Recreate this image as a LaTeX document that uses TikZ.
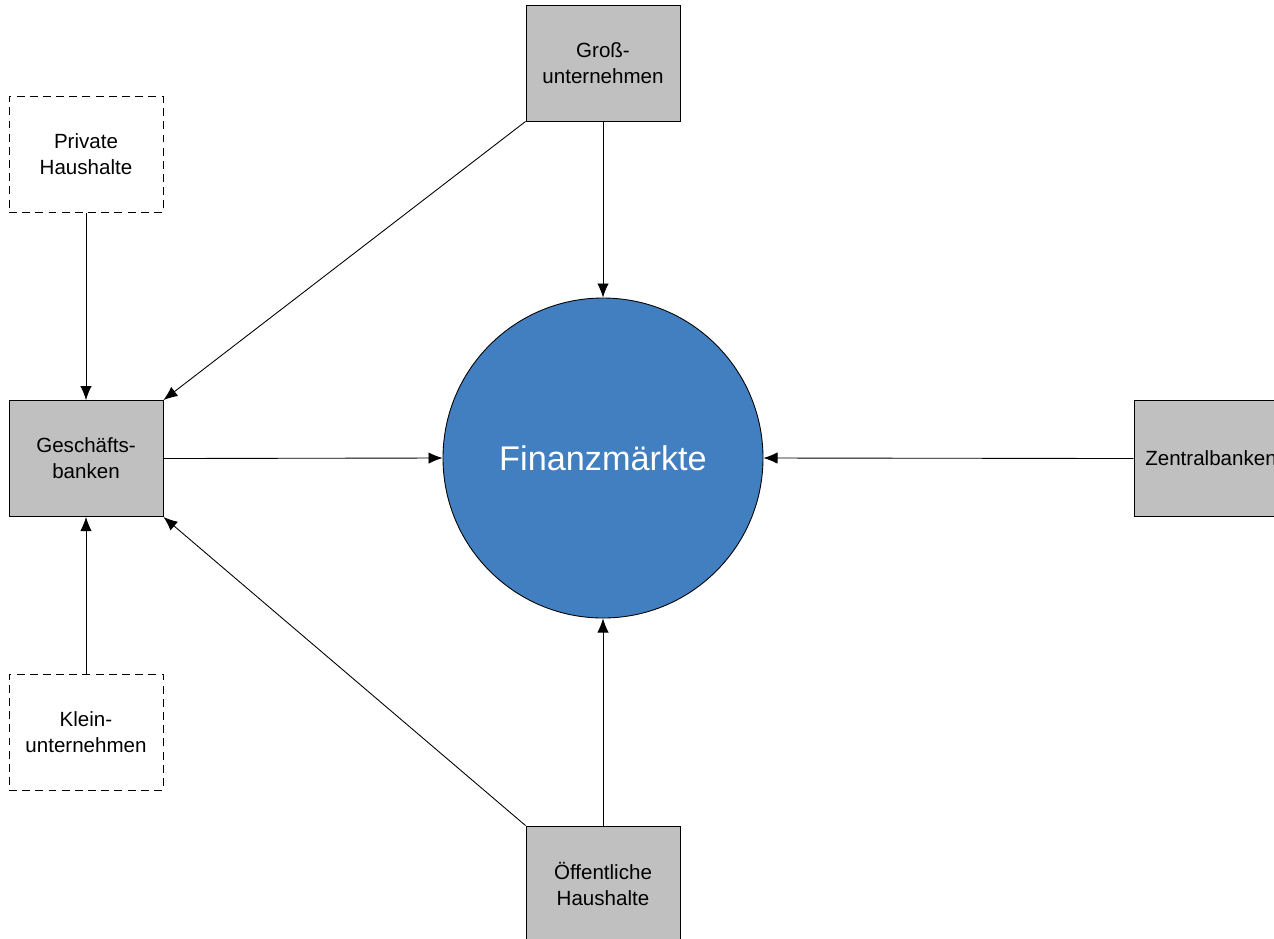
\documentclass[tikz,border=0pt]{standalone}
\usepackage{fontspec}
\setmainfont{Liberation Sans}
\usetikzlibrary{arrows.meta}

\definecolor{boxgrey}{RGB}{192,192,192}
\definecolor{marktblue}{RGB}{65,127,193}

\tikzset{
    akteur/.style={draw, fill=boxgrey, minimum width=154*0.02cm, minimum height=116*0.02cm,
        inner sep=0pt, align=center, font=\fontsize{11.7}{14.7}\selectfont},
    privat/.style={akteur, fill=white, dash pattern=on 4.5pt off 3pt},
    fluss/.style={-{Latex[length=8pt,width=6.5pt]}, line width=0.5pt},
}

\begin{document}
\begin{tikzpicture}[x=0.02cm, y=-0.02cm, line width=0.5pt]
\useasboundingbox (0,0) rectangle (1274,938);
\node[circle, draw, fill=marktblue, minimum size=320*0.02cm, inner sep=0pt,
    text=white, font=\fontsize{19.5}{22}\selectfont] (markt) at (603,458) {Finanzm\"arkte};

\node[akteur] (gross) at (603,63) {Gro\ss-\\unternehmen};
\node[privat] (haushalt) at (86,154.5) {Private\\Haushalte};
\node[akteur] (bank) at (86,458.5) {Gesch\"afts-\\banken};
\node[privat] (klein) at (86,732) {Klein-\\unternehmen};
\node[akteur] (staat) at (603,884) {\"Offentliche\\Haushalte};
\node[akteur] (zentral) at (1211,458.5) {Zentralbanken};

% Fluesse zu den Maerkten
\draw[fluss] (gross.south) -- (markt.north);
\draw[fluss] (bank.east) -- (markt.west);
\draw[fluss] (staat.north) -- (markt.south);
\draw[fluss] (zentral.west) -- (markt.east);

% Fluesse zu den Banken
\draw[fluss] (gross.south west) -- (bank.north east);
\draw[fluss] (haushalt.south) -- (bank.north);
\draw[fluss] (klein.north) -- (bank.south);
\draw[fluss] (staat.north west) -- (bank.south east);
\end{tikzpicture}
\end{document}
